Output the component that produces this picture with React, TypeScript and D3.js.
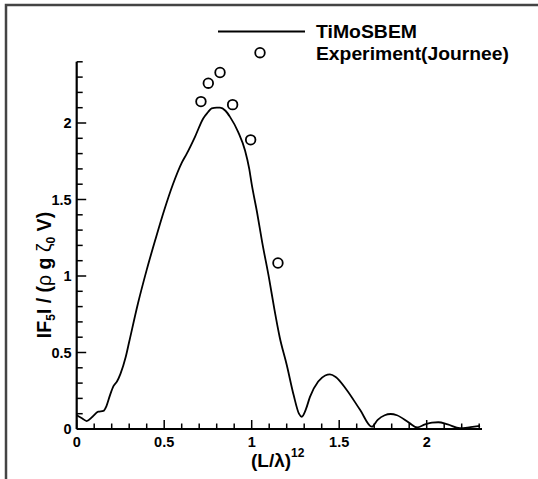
import React from "react";
import * as d3 from "d3";

const curveX = [0, 0.03, 0.057, 0.09, 0.123, 0.152, 0.17, 0.19, 0.21, 0.23, 0.25, 0.28, 0.3, 0.35, 0.4, 0.45, 0.5, 0.55, 0.6, 0.629, 0.676, 0.723, 0.75, 0.771, 0.8, 0.819, 0.85, 0.876, 0.923, 0.962, 0.986, 1.0, 1.03, 1.06, 1.1, 1.13, 1.16, 1.2, 1.24, 1.27, 1.286, 1.31, 1.333, 1.38, 1.42, 1.447, 1.48, 1.543, 1.62, 1.686, 1.72, 1.76, 1.794, 1.83, 1.9, 1.946, 1.99, 2.03, 2.066, 2.12, 2.19, 2.25, 2.305];
const curveY = [0.09, 0.07, 0.052, 0.08, 0.113, 0.118, 0.15, 0.22, 0.28, 0.31, 0.36, 0.47, 0.57, 0.82, 1.04, 1.24, 1.43, 1.6, 1.74, 1.8, 1.91, 2.03, 2.07, 2.096, 2.1, 2.1, 2.08, 2.04, 1.94, 1.82, 1.7, 1.6, 1.42, 1.22, 0.98, 0.78, 0.6, 0.42, 0.22, 0.1, 0.08, 0.13, 0.21, 0.31, 0.35, 0.357, 0.34, 0.255, 0.124, 0.015, 0.06, 0.09, 0.098, 0.09, 0.04, 0.01, 0.03, 0.042, 0.044, 0.03, 0.005, 0.012, 0.02];

const expX = [0.71, 0.752, 0.819, 0.891, 0.994, 1.15];
const expY = [2.14, 2.26, 2.33, 2.12, 1.89, 1.085];

const xTickLabels = ["0", "0.5", "1", "1.5", "2"];
const yTickLabels = ["0", "0.5", "1", "1.5", "2"];

const legendLabels = ["TiMoSBEM", "Experiment(Journee)"];

export default function App() {
  const x = d3.scaleLinear().domain([0, 2.316]).range([76.7, 482]);
  const y = d3.scaleLinear().domain([0, 2.4]).range([429, 61.8]);

  const line = d3
    .line<number>()
    .x((_, i) => x(curveX[i]))
    .y((_, i) => y(curveY[i]))
    .curve(d3.curveMonotoneX);

  const xMinor = d3.range(0, 23.01, 1).map((v) => v / 10);
  const yMinor = d3.range(0, 24.01, 1).map((v) => v / 10);
  const isMajor = (v: number) => Math.abs(v * 2 - Math.round(v * 2)) < 1e-6;

  const font = "'Liberation Sans', Arial, Helvetica, sans-serif";

  return (
    <svg
      width={538}
      height={479}
      style={{ position: "absolute", left: 0, top: 0, background: "#fff" }}
      fontFamily={font}
    >
      <rect x={6} y={5} width={700} height={700} fill="none" stroke="#444" strokeWidth={2.5} />

      {/* ticks */}
      {xMinor.map((v, i) => (
        <line
          key={"xt" + i}
          x1={x(v)}
          x2={x(v)}
          y1={y(0)}
          y2={y(0) - (isMajor(v) ? 9 : 5.5)}
          stroke="#000"
          strokeWidth={1.5}
        />
      ))}
      {yMinor.map((v, i) => (
        <line
          key={"yt" + i}
          x1={x(0)}
          x2={x(0) + (isMajor(v) ? 9.5 : 6)}
          y1={y(v)}
          y2={y(v)}
          stroke="#000"
          strokeWidth={1.5}
        />
      ))}
      <line x1={x(0)} x2={x(2.316)} y1={y(0)} y2={y(0)} stroke="#000" strokeWidth={2.2} />
      <line x1={x(0)} x2={x(0)} y1={y(0)} y2={y(2.4)} stroke="#000" strokeWidth={2.2} />

      {xTickLabels.map((t) => (
        <text
          key={"xl" + t}
          x={x(+t)}
          y={y(0) + 18}
          textAnchor="middle"
          fontSize={14.5}
          fontWeight="bold"
        >
          {t}
        </text>
      ))}
      {yTickLabels.map((t) => (
        <text
          key={"yl" + t}
          x={x(0) - 5}
          y={y(+t) + 5}
          textAnchor="end"
          fontSize={14.5}
          fontWeight="bold"
        >
          {t}
        </text>
      ))}

      {/* axis titles */}
      <text x={251} y={467} fontSize={19} fontWeight="bold">
        (L/λ)
        <tspan dy={-10} fontSize={12}>12</tspan>
      </text>
      <text
        transform="translate(51,275) rotate(-90)"
        textAnchor="middle"
        fontSize={19.5}
        fontWeight="bold"
      >
        IF<tspan dy={4} fontSize={12}>5</tspan>
        <tspan dy={-4}>I / (</tspan>
        <tspan fontWeight="normal">ρ</tspan>
        <tspan> g </tspan>
        <tspan fontWeight="normal">ζ</tspan>
        <tspan dy={4} fontSize={12}>0</tspan>
        <tspan dy={-4}> V)</tspan>
      </text>

      {/* data */}
      <path d={line(curveX) || ""} fill="none" stroke="#000" strokeWidth={1.8} />
      {expX.map((v, i) => (
        <circle key={"c" + i} cx={x(v)} cy={y(expY[i])} r={4.8} fill="none" stroke="#000" strokeWidth={1.8} />
      ))}

      {/* legend */}
      <line x1={218} x2={305} y1={31.5} y2={31.5} stroke="#000" strokeWidth={1.8} />
      <circle cx={260} cy={52.7} r={4.8} fill="none" stroke="#000" strokeWidth={1.8} />
      <text x={316} y={38} fontSize={18} fontWeight="bold" textLength={101} lengthAdjust="spacingAndGlyphs">{legendLabels[0]}</text>
      <text x={316} y={59.5} fontSize={18} fontWeight="bold" textLength={193} lengthAdjust="spacingAndGlyphs">{legendLabels[1]}</text>
    </svg>
  );
}
